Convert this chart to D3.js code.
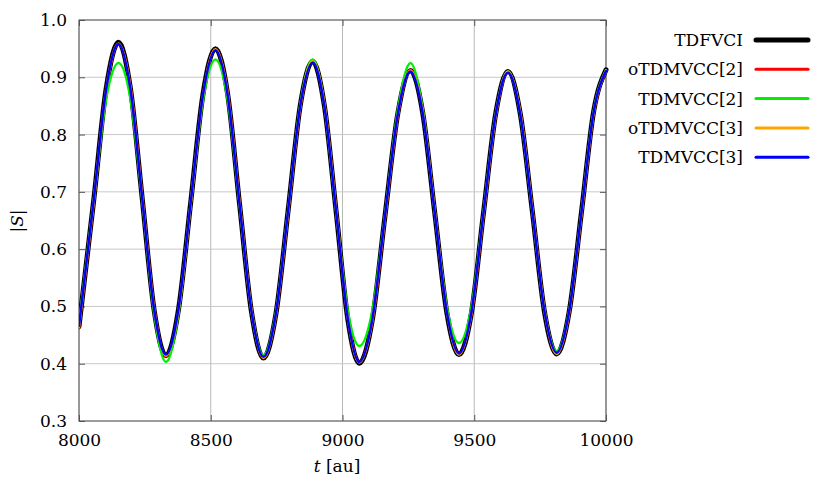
<!DOCTYPE html>
<html lang="en">
<head>
  <meta charset="UTF-8">
  <title>|S| vs t</title>
  <script src="https://d3js.org/d3.v7.min.js"></script>
  <style>
    body { margin: 0; background: #fff; }
    svg text { font-family: "DejaVu Serif", serif !important; fill: #000; }
  </style>
</head>
<body>
<div id="chart"></div>
<script>
  // time knots [au]
  const times = [8000, 8056, 8103, 8150, 8195, 8240, 8285, 8330, 8377, 8424, 8471, 8518,
    8564, 8609, 8655, 8700, 8747, 8794, 8840, 8887, 8931, 8976, 9020, 9064,
    9113, 9161, 9210, 9258, 9304, 9350, 9396, 9442, 9489, 9535, 9582, 9628,
    9674, 9721, 9767, 9813, 9860, 9907, 9953, 10000];

  const tdfvci = [0.465, 0.686, 0.880, 0.961, 0.881, 0.688, 0.494, 0.414, 0.493, 0.682, 0.872, 0.950,
    0.871, 0.680, 0.489, 0.410, 0.486, 0.669, 0.852, 0.928, 0.851, 0.665, 0.478, 0.401,
    0.476, 0.657, 0.837, 0.912, 0.839, 0.664, 0.489, 0.416, 0.488, 0.663, 0.838, 0.910,
    0.838, 0.664, 0.489, 0.417, 0.490, 0.665, 0.840, 0.913];

  const oTdmvcc2 = [0.462, 0.682, 0.876, 0.958, 0.884, 0.692, 0.498, 0.413, 0.490, 0.678, 0.868, 0.948,
    0.874, 0.684, 0.493, 0.411, 0.484, 0.665, 0.848, 0.929, 0.854, 0.669, 0.482, 0.403,
    0.474, 0.653, 0.833, 0.913, 0.842, 0.668, 0.493, 0.417, 0.486, 0.659, 0.834, 0.909,
    0.841, 0.668, 0.493, 0.418, 0.487, 0.661, 0.836, 0.910];

  const tdmvcc2 = [0.470, 0.686, 0.862, 0.925, 0.863, 0.686, 0.489, 0.403, 0.487, 0.680, 0.862, 0.931,
    0.861, 0.679, 0.491, 0.415, 0.489, 0.669, 0.853, 0.931, 0.852, 0.665, 0.493, 0.431,
    0.492, 0.658, 0.843, 0.925, 0.845, 0.665, 0.499, 0.436, 0.498, 0.664, 0.838, 0.910,
    0.838, 0.664, 0.491, 0.422, 0.492, 0.665, 0.840, 0.912];

  const oTdmvcc3 = [0.464, 0.684, 0.878, 0.959, 0.883, 0.690, 0.496, 0.414, 0.491, 0.680, 0.870, 0.949,
    0.873, 0.682, 0.491, 0.410, 0.485, 0.667, 0.850, 0.928, 0.853, 0.667, 0.480, 0.402,
    0.475, 0.655, 0.835, 0.912, 0.841, 0.666, 0.491, 0.416, 0.487, 0.661, 0.836, 0.910,
    0.840, 0.666, 0.491, 0.417, 0.489, 0.663, 0.838, 0.912];

  const tdmvcc3 = [0.466, 0.686, 0.879, 0.958, 0.880, 0.688, 0.495, 0.416, 0.494, 0.682, 0.871, 0.947,
    0.870, 0.680, 0.490, 0.412, 0.487, 0.669, 0.851, 0.926, 0.850, 0.665, 0.479, 0.403,
    0.477, 0.657, 0.836, 0.910, 0.838, 0.664, 0.490, 0.418, 0.489, 0.663, 0.837, 0.908,
    0.837, 0.664, 0.490, 0.419, 0.491, 0.665, 0.839, 0.911];

  const seriesNames = ['TDFVCI', 'oTDMVCC[2]', 'TDMVCC[2]', 'oTDMVCC[3]', 'TDMVCC[3]'];
  const seriesValues = [tdfvci, oTdmvcc2, tdmvcc2, oTdmvcc3, tdmvcc3];
  const seriesColors = ['#000000', '#ff0000', '#00f000', '#ffa500', '#0000ff'];
  const seriesWidths = [5, 2.5, 2.5, 2.5, 2.5];

  const xTicks = [8000, 8500, 9000, 9500, 10000];
  const yTicks = [0.3, 0.4, 0.5, 0.6, 0.7, 0.8, 0.9, 1.0];

  const W = 830, H = 485;
  const pL = 79, pR = 606, pT = 20, pB = 421;
  const fs = '17px';

  const svg = d3.select('#chart').append('svg').attr('width', W).attr('height', H);

  const x = d3.scaleLinear().domain([8000, 10000]).range([pL, pR]);
  const y = d3.scaleLinear().domain([0.3, 1.0]).range([pB, pT]);

  // grid
  svg.append('g').selectAll('line').data(xTicks).enter().append('line')
    .attr('x1', d => x(d)).attr('x2', d => x(d))
    .attr('y1', pT).attr('y2', pB)
    .attr('stroke', '#b8b8b8').attr('stroke-width', 1);
  svg.append('g').selectAll('line').data(yTicks).enter().append('line')
    .attr('x1', pL).attr('x2', pR)
    .attr('y1', d => y(d)).attr('y2', d => y(d))
    .attr('stroke', '#c8c8c8').attr('stroke-width', 1);

  // axes (ticks point inward, mirrored on top/right)
  const tk = 6;
  const bottomAxis = svg.append('g').attr('transform', `translate(0,${pB})`)
    .call(d3.axisBottom(x).tickValues(xTicks).tickSizeInner(-tk).tickSizeOuter(0).tickPadding(14).tickFormat(d3.format('d')));
  const topAxis = svg.append('g').attr('transform', `translate(0,${pT})`)
    .call(d3.axisTop(x).tickValues(xTicks).tickSizeInner(-tk).tickSizeOuter(0).tickFormat(''));
  const leftAxis = svg.append('g').attr('transform', `translate(${pL},0)`)
    .call(d3.axisLeft(y).tickValues(yTicks).tickSizeInner(-tk).tickSizeOuter(0).tickPadding(12).tickFormat(d3.format('.1f')));
  const rightAxis = svg.append('g').attr('transform', `translate(${pR},0)`)
    .call(d3.axisRight(y).tickValues(yTicks).tickSizeInner(-tk).tickSizeOuter(0).tickFormat(''));

  [bottomAxis, topAxis, leftAxis, rightAxis].forEach(g => {
    g.attr('font-family', null);
    g.select('.domain').remove();
    g.selectAll('.tick line').attr('stroke', '#555');
    g.selectAll('.tick text').style('font-size', fs).attr('fill', '#000');
  });
  bottomAxis.selectAll('.tick text').attr('dy', '0.71em').attr('y', 13);

  // frame
  svg.append('rect').attr('x', pL).attr('y', pT)
    .attr('width', pR - pL).attr('height', pB - pT)
    .attr('fill', 'none').attr('stroke', '#555').attr('stroke-width', 1);

  // curves
  const line = d3.line()
    .x((d, i) => x(times[i]))
    .y(d => y(d))
    .curve(d3.curveMonotoneX);

  svg.append('defs').append('clipPath').attr('id', 'plotClip')
    .append('rect').attr('x', pL).attr('y', pT).attr('width', pR - pL + 3).attr('height', pB - pT);

  svg.append('g').attr('clip-path', 'url(#plotClip)')
    .selectAll('path').data(seriesValues).enter().append('path')
    .attr('d', d => line(d))
    .attr('fill', 'none')
    .attr('stroke', (d, i) => seriesColors[i])
    .attr('stroke-width', (d, i) => seriesWidths[i])
    .attr('stroke-linejoin', 'round')
    .attr('stroke-linecap', 'round');

  // axis titles
  const xt = svg.append('text').attr('x', 337).attr('y', 472)
    .attr('text-anchor', 'middle').style('font-size', fs);
  xt.append('tspan').style('font-style', 'italic').text('t');
  xt.append('tspan').text(' [au]');

  const yt = svg.append('text')
    .attr('transform', 'translate(23,221) rotate(-90)')
    .attr('text-anchor', 'middle').style('font-size', fs);
  yt.append('tspan').text('|');
  yt.append('tspan').style('font-style', 'italic').text('S');
  yt.append('tspan').text('|');

  // legend
  const legend = svg.append('g').selectAll('g').data(seriesNames).enter().append('g')
    .attr('transform', (d, i) => `translate(0,${40 + i * 29.3})`);
  legend.append('text')
    .attr('x', 743).attr('y', 6)
    .attr('text-anchor', 'end')
    .style('font-size', fs)
    .text(d => d);
  legend.append('line')
    .attr('x1', 756).attr('x2', 808)
    .attr('y1', 0).attr('y2', 0)
    .attr('stroke', (d, i) => seriesColors[i])
    .attr('stroke-width', (d, i) => seriesWidths[i] === 5 ? 5 : 3)
    .attr('stroke-linecap', 'round');
</script>
</body>
</html>
